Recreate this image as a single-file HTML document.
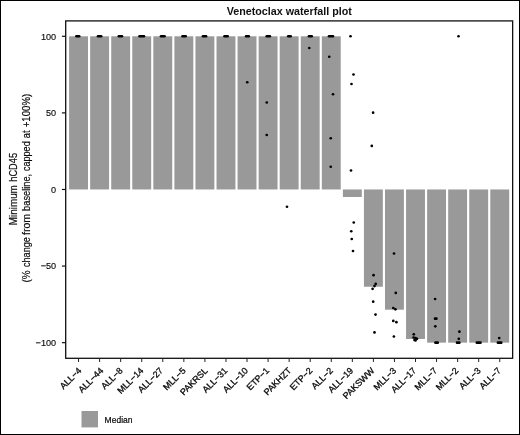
<!DOCTYPE html>
<html lang="en"><head><meta charset="utf-8"><title>Venetoclax waterfall plot</title>
<style>html,body{margin:0;padding:0;background:#fff}body{width:520px;height:435px;overflow:hidden}svg{display:block}text{font-family:"Liberation Sans",Arial,sans-serif;fill:#111}</style></head><body>
<svg width="520" height="435" viewBox="0 0 520 435">
<rect x="0" y="0" width="520" height="435" fill="#fff"/>
<rect x="69.10" y="36.30" width="18.90" height="153.17" fill="#999"/>
<rect x="90.16" y="36.30" width="18.90" height="153.17" fill="#999"/>
<rect x="111.22" y="36.30" width="18.90" height="153.17" fill="#999"/>
<rect x="132.28" y="36.30" width="18.90" height="153.17" fill="#999"/>
<rect x="153.34" y="36.30" width="18.90" height="153.17" fill="#999"/>
<rect x="174.40" y="36.30" width="18.90" height="153.17" fill="#999"/>
<rect x="195.46" y="36.30" width="18.90" height="153.17" fill="#999"/>
<rect x="216.52" y="36.30" width="18.90" height="153.17" fill="#999"/>
<rect x="237.58" y="36.30" width="18.90" height="153.17" fill="#999"/>
<rect x="258.64" y="36.30" width="18.90" height="153.17" fill="#999"/>
<rect x="279.70" y="36.30" width="18.90" height="153.17" fill="#999"/>
<rect x="300.76" y="36.30" width="18.90" height="153.17" fill="#999"/>
<rect x="321.82" y="36.30" width="18.90" height="153.17" fill="#999"/>
<rect x="342.88" y="189.47" width="18.90" height="7.51" fill="#999"/>
<rect x="363.94" y="189.47" width="18.90" height="97.27" fill="#999"/>
<rect x="385.00" y="189.47" width="18.90" height="120.24" fill="#999"/>
<rect x="406.06" y="189.47" width="18.90" height="149.50" fill="#999"/>
<rect x="427.12" y="189.47" width="18.90" height="153.18" fill="#999"/>
<rect x="448.18" y="189.47" width="18.90" height="153.18" fill="#999"/>
<rect x="469.24" y="189.47" width="18.90" height="153.18" fill="#999"/>
<rect x="490.30" y="189.47" width="18.90" height="153.18" fill="#999"/>
<rect x="65.7" y="20.9" width="446.95" height="337.40000000000003" fill="none" stroke="#111" stroke-width="1.3"/>
<line x1="61.9" x2="65.7" y1="36.30" y2="36.30" stroke="#111" stroke-width="1.2"/>
<text x="56.1" y="39.50" font-size="9.1" text-anchor="end" fill="#000" stroke="#000" stroke-width="0.15">100</text>
<line x1="61.9" x2="65.7" y1="112.89" y2="112.89" stroke="#111" stroke-width="1.2"/>
<text x="56.1" y="116.09" font-size="9.1" text-anchor="end" fill="#000" stroke="#000" stroke-width="0.15">50</text>
<line x1="61.9" x2="65.7" y1="189.47" y2="189.47" stroke="#111" stroke-width="1.2"/>
<text x="56.1" y="192.67" font-size="9.1" text-anchor="end" fill="#000" stroke="#000" stroke-width="0.15">0</text>
<line x1="61.9" x2="65.7" y1="266.06" y2="266.06" stroke="#111" stroke-width="1.2"/>
<text x="56.1" y="269.26" font-size="9.1" text-anchor="end" fill="#000" stroke="#000" stroke-width="0.15">−50</text>
<line x1="61.9" x2="65.7" y1="342.65" y2="342.65" stroke="#111" stroke-width="1.2"/>
<text x="56.1" y="345.85" font-size="9.1" text-anchor="end" fill="#000" stroke="#000" stroke-width="0.15">−100</text>
<line x1="78.55" x2="78.55" y1="358.3" y2="362" stroke="#222" stroke-width="1"/>
<text transform="translate(81.95,371.2) rotate(-45)" font-size="8.95" text-anchor="end" fill="#000" stroke="#000" stroke-width="0.3">ALL−4</text>
<line x1="99.61" x2="99.61" y1="358.3" y2="362" stroke="#222" stroke-width="1"/>
<text transform="translate(103.91,371.2) rotate(-45)" font-size="8.95" text-anchor="end" fill="#000" stroke="#000" stroke-width="0.3">ALL−44</text>
<line x1="120.67" x2="120.67" y1="358.3" y2="362" stroke="#222" stroke-width="1"/>
<text transform="translate(123.17,371.2) rotate(-45)" font-size="8.95" text-anchor="end" fill="#000" stroke="#000" stroke-width="0.3">ALL−8</text>
<line x1="141.73" x2="141.73" y1="358.3" y2="362" stroke="#222" stroke-width="1"/>
<text transform="translate(143.93,371.2) rotate(-45)" font-size="8.95" text-anchor="end" fill="#000" stroke="#000" stroke-width="0.3">MLL−14</text>
<line x1="162.79" x2="162.79" y1="358.3" y2="362" stroke="#222" stroke-width="1"/>
<text transform="translate(163.59,371.2) rotate(-45)" font-size="8.95" text-anchor="end" fill="#000" stroke="#000" stroke-width="0.3">ALL−27</text>
<line x1="183.85" x2="183.85" y1="358.3" y2="362" stroke="#222" stroke-width="1"/>
<text transform="translate(186.25,371.2) rotate(-45)" font-size="8.95" text-anchor="end" fill="#000" stroke="#000" stroke-width="0.3">MLL−5</text>
<line x1="204.91" x2="204.91" y1="358.3" y2="362" stroke="#222" stroke-width="1"/>
<text transform="translate(208.31,371.2) rotate(-45)" font-size="8.95" text-anchor="end" fill="#000" stroke="#000" stroke-width="0.3">PAKRSL</text>
<line x1="225.97" x2="225.97" y1="358.3" y2="362" stroke="#222" stroke-width="1"/>
<text transform="translate(227.97,371.2) rotate(-45)" font-size="8.95" text-anchor="end" fill="#000" stroke="#000" stroke-width="0.3">ALL−31</text>
<line x1="247.03" x2="247.03" y1="358.3" y2="362" stroke="#222" stroke-width="1"/>
<text transform="translate(248.43,371.2) rotate(-45)" font-size="8.95" text-anchor="end" fill="#000" stroke="#000" stroke-width="0.3">ALL−10</text>
<line x1="268.09" x2="268.09" y1="358.3" y2="362" stroke="#222" stroke-width="1"/>
<text transform="translate(269.69,371.2) rotate(-45)" font-size="8.95" text-anchor="end" fill="#000" stroke="#000" stroke-width="0.3">ETP−1</text>
<line x1="289.15" x2="289.15" y1="358.3" y2="362" stroke="#222" stroke-width="1"/>
<text transform="translate(291.85,371.2) rotate(-45)" font-size="8.95" text-anchor="end" fill="#000" stroke="#000" stroke-width="0.3">PAKHZT</text>
<line x1="310.21" x2="310.21" y1="358.3" y2="362" stroke="#222" stroke-width="1"/>
<text transform="translate(312.91,371.2) rotate(-45)" font-size="8.95" text-anchor="end" fill="#000" stroke="#000" stroke-width="0.3">ETP−2</text>
<line x1="331.27" x2="331.27" y1="358.3" y2="362" stroke="#222" stroke-width="1"/>
<text transform="translate(333.47,371.2) rotate(-45)" font-size="8.95" text-anchor="end" fill="#000" stroke="#000" stroke-width="0.3">ALL−2</text>
<line x1="352.33" x2="352.33" y1="358.3" y2="362" stroke="#222" stroke-width="1"/>
<text transform="translate(353.83,371.2) rotate(-45)" font-size="8.95" text-anchor="end" fill="#000" stroke="#000" stroke-width="0.3">ALL−19</text>
<line x1="373.39" x2="373.39" y1="358.3" y2="362" stroke="#222" stroke-width="1"/>
<text transform="translate(374.89,371.2) rotate(-45)" font-size="8.95" text-anchor="end" fill="#000" stroke="#000" stroke-width="0.3">PAKSWW</text>
<line x1="394.45" x2="394.45" y1="358.3" y2="362" stroke="#222" stroke-width="1"/>
<text transform="translate(396.65,371.2) rotate(-45)" font-size="8.95" text-anchor="end" fill="#000" stroke="#000" stroke-width="0.3">MLL−3</text>
<line x1="415.51" x2="415.51" y1="358.3" y2="362" stroke="#222" stroke-width="1"/>
<text transform="translate(416.71,371.2) rotate(-45)" font-size="8.95" text-anchor="end" fill="#000" stroke="#000" stroke-width="0.3">ALL−17</text>
<line x1="436.57" x2="436.57" y1="358.3" y2="362" stroke="#222" stroke-width="1"/>
<text transform="translate(437.77,371.2) rotate(-45)" font-size="8.95" text-anchor="end" fill="#000" stroke="#000" stroke-width="0.3">MLL−7</text>
<line x1="457.63" x2="457.63" y1="358.3" y2="362" stroke="#222" stroke-width="1"/>
<text transform="translate(459.03,371.2) rotate(-45)" font-size="8.95" text-anchor="end" fill="#000" stroke="#000" stroke-width="0.3">MLL−2</text>
<line x1="478.69" x2="478.69" y1="358.3" y2="362" stroke="#222" stroke-width="1"/>
<text transform="translate(481.19,371.2) rotate(-45)" font-size="8.95" text-anchor="end" fill="#000" stroke="#000" stroke-width="0.3">ALL−3</text>
<line x1="499.75" x2="499.75" y1="358.3" y2="362" stroke="#222" stroke-width="1"/>
<text transform="translate(501.45,371.2) rotate(-45)" font-size="8.95" text-anchor="end" fill="#000" stroke="#000" stroke-width="0.3">ALL−7</text>
<rect x="75.10" y="35.00" width="5.40" height="2.6" rx="1.3" fill="#000"/>
<rect x="96.70" y="35.00" width="5.80" height="2.6" rx="1.3" fill="#000"/>
<rect x="117.50" y="35.00" width="5.80" height="2.6" rx="1.3" fill="#000"/>
<rect x="138.20" y="35.00" width="7.10" height="2.6" rx="1.3" fill="#000"/>
<rect x="159.70" y="35.00" width="6.20" height="2.6" rx="1.3" fill="#000"/>
<rect x="181.20" y="35.00" width="5.80" height="2.6" rx="1.3" fill="#000"/>
<rect x="201.60" y="35.00" width="5.80" height="2.6" rx="1.3" fill="#000"/>
<rect x="223.20" y="35.00" width="5.80" height="2.6" rx="1.3" fill="#000"/>
<rect x="244.80" y="35.00" width="5.30" height="2.6" rx="1.3" fill="#000"/>
<rect x="265.40" y="35.00" width="5.80" height="2.6" rx="1.3" fill="#000"/>
<rect x="286.90" y="35.00" width="5.10" height="2.6" rx="1.3" fill="#000"/>
<rect x="307.60" y="35.00" width="5.50" height="2.6" rx="1.3" fill="#000"/>
<rect x="327.70" y="35.00" width="6.60" height="2.6" rx="1.3" fill="#000"/>
<rect x="434.10" y="341.35" width="5.00" height="2.6" rx="1.3" fill="#000"/>
<rect x="455.70" y="341.35" width="5.00" height="2.6" rx="1.3" fill="#000"/>
<rect x="475.50" y="341.35" width="6.30" height="2.6" rx="1.3" fill="#000"/>
<rect x="496.60" y="341.35" width="6.00" height="2.6" rx="1.3" fill="#000"/>
<circle cx="247.25" cy="82.25" r="1.35" fill="#000"/>
<circle cx="266.75" cy="102.50" r="1.35" fill="#000"/>
<circle cx="266.75" cy="135.00" r="1.35" fill="#000"/>
<circle cx="309.25" cy="48.00" r="1.35" fill="#000"/>
<circle cx="329.25" cy="56.75" r="1.35" fill="#000"/>
<circle cx="333.00" cy="94.25" r="1.35" fill="#000"/>
<circle cx="350.50" cy="36.25" r="1.35" fill="#000"/>
<circle cx="353.50" cy="74.50" r="1.35" fill="#000"/>
<circle cx="351.50" cy="84.00" r="1.35" fill="#000"/>
<circle cx="330.75" cy="138.25" r="1.35" fill="#000"/>
<circle cx="330.75" cy="166.75" r="1.35" fill="#000"/>
<circle cx="351.00" cy="170.50" r="1.35" fill="#000"/>
<circle cx="353.75" cy="222.50" r="1.35" fill="#000"/>
<circle cx="287.00" cy="206.75" r="1.35" fill="#000"/>
<circle cx="351.25" cy="231.25" r="1.35" fill="#000"/>
<circle cx="351.75" cy="239.00" r="1.35" fill="#000"/>
<circle cx="353.00" cy="251.00" r="1.35" fill="#000"/>
<circle cx="394.00" cy="253.50" r="1.35" fill="#000"/>
<circle cx="373.55" cy="275.20" r="1.35" fill="#000"/>
<circle cx="375.70" cy="283.90" r="1.35" fill="#000"/>
<circle cx="374.50" cy="286.10" r="1.35" fill="#000"/>
<circle cx="372.60" cy="288.80" r="1.35" fill="#000"/>
<circle cx="373.20" cy="301.70" r="1.35" fill="#000"/>
<circle cx="375.50" cy="314.60" r="1.35" fill="#000"/>
<circle cx="374.50" cy="332.40" r="1.35" fill="#000"/>
<circle cx="395.80" cy="292.90" r="1.35" fill="#000"/>
<circle cx="393.30" cy="308.00" r="1.35" fill="#000"/>
<circle cx="395.40" cy="309.30" r="1.35" fill="#000"/>
<circle cx="393.30" cy="320.90" r="1.35" fill="#000"/>
<circle cx="396.40" cy="322.20" r="1.35" fill="#000"/>
<circle cx="393.90" cy="336.50" r="1.35" fill="#000"/>
<circle cx="413.80" cy="334.30" r="1.35" fill="#000"/>
<circle cx="413.60" cy="337.50" r="1.35" fill="#000"/>
<circle cx="415.50" cy="338.00" r="1.35" fill="#000"/>
<circle cx="417.00" cy="338.80" r="1.35" fill="#000"/>
<circle cx="415.50" cy="340.50" r="1.35" fill="#000"/>
<circle cx="414.50" cy="340.00" r="1.35" fill="#000"/>
<circle cx="435.10" cy="299.00" r="1.35" fill="#000"/>
<circle cx="435.00" cy="318.70" r="1.35" fill="#000"/>
<circle cx="436.40" cy="318.70" r="1.35" fill="#000"/>
<circle cx="435.30" cy="326.30" r="1.35" fill="#000"/>
<circle cx="459.40" cy="331.70" r="1.35" fill="#000"/>
<circle cx="458.80" cy="338.80" r="1.35" fill="#000"/>
<circle cx="458.50" cy="36.25" r="1.35" fill="#000"/>
<circle cx="499.20" cy="338.10" r="1.35" fill="#000"/>
<circle cx="373.10" cy="112.70" r="1.35" fill="#000"/>
<circle cx="371.80" cy="145.90" r="1.35" fill="#000"/>
<text x="289.3" y="15.2" font-size="10.0" font-weight="bold" text-anchor="middle" fill="#000" textLength="125.3" lengthAdjust="spacingAndGlyphs">Venetoclax waterfall plot</text>
<text transform="translate(16.9,225.15) rotate(-90)" font-size="11.4" textLength="39.98" lengthAdjust="spacingAndGlyphs" fill="#000" stroke="#000" stroke-width="0.2">Minimum</text>
<text transform="translate(16.9,181.73) rotate(-90)" font-size="11.4" textLength="28.83" lengthAdjust="spacingAndGlyphs" fill="#000" stroke="#000" stroke-width="0.2">hCD45</text>
<text transform="translate(30.1,282.56) rotate(-90)" font-size="11.4" textLength="12.08" lengthAdjust="spacingAndGlyphs" fill="#000" stroke="#000" stroke-width="0.2">(%</text>
<text transform="translate(30.1,267.03) rotate(-90)" font-size="11.4" textLength="29.92" lengthAdjust="spacingAndGlyphs" fill="#000" stroke="#000" stroke-width="0.2">change</text>
<text transform="translate(30.1,235.0) rotate(-90)" font-size="11.4" textLength="21.14" lengthAdjust="spacingAndGlyphs" fill="#000" stroke="#000" stroke-width="0.2">from</text>
<text transform="translate(30.1,210.89) rotate(-90)" font-size="11.4" textLength="37.01" lengthAdjust="spacingAndGlyphs" fill="#000" stroke="#000" stroke-width="0.2">baseline,</text>
<text transform="translate(30.1,171.08) rotate(-90)" font-size="11.4" textLength="29.76" lengthAdjust="spacingAndGlyphs" fill="#000" stroke="#000" stroke-width="0.2">capped</text>
<text transform="translate(30.1,138.22) rotate(-90)" font-size="11.4" textLength="7.69" lengthAdjust="spacingAndGlyphs" fill="#000" stroke="#000" stroke-width="0.2">at</text>
<text transform="translate(30.1,127.33) rotate(-90)" font-size="11.4" textLength="33.49" lengthAdjust="spacingAndGlyphs" fill="#000" stroke="#000" stroke-width="0.2">+100%)</text>
<rect x="81.5" y="411" width="16.5" height="16.4" fill="#999"/>
<text x="104.6" y="422.7" font-size="8.5" fill="#000" stroke="#000" stroke-width="0.2">Median</text>
<rect x="0.5" y="0.5" width="519" height="434" fill="none" stroke="#000" stroke-width="1"/>
</svg></body></html>
